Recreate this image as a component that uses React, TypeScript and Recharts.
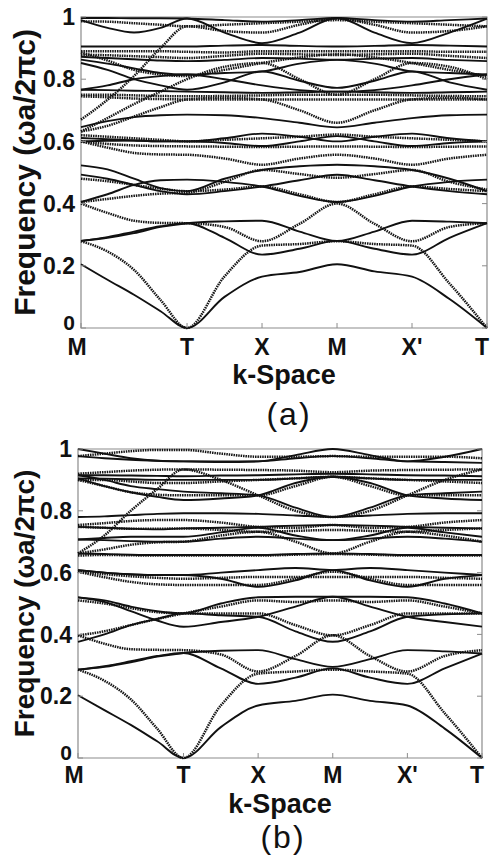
import React from 'react';
import { LineChart, Line, XAxis, YAxis, ReferenceArea } from 'recharts';

// k-path sampling: M -> T (quarter steps), then half steps along T-X-M-X'-T
const kPoints = [0, 0.3535, 0.707, 1.0605, 1.414, 1.914, 2.414, 2.914, 3.414, 3.914, 4.414, 4.914, 5.414];
const kTickPos = [0, 1.414, 2.414, 3.414, 4.414, 5.414];
const kLabels = ['M', 'T', 'X', 'M', "X'", 'T'];
const freqTicks = [0, 0.2, 0.4, 0.6, 0.8, 1];

// panel (a) bands, values at kPoints
const bandsASolid = [
  [0.205, 0.155, 0.107, 0.054, 0, 0.10, 0.165, 0.18, 0.205, 0.182, 0.165, 0.093, 0],
  [0.28, 0.29, 0.305, 0.325, 0.337, 0.343, 0.345, 0.31, 0.28, 0.31, 0.345, 0.342, 0.337],
  [0.28, 0.292, 0.31, 0.327, 0.337, 0.29, 0.236, 0.255, 0.28, 0.255, 0.236, 0.29, 0.337],
  [0.405, 0.43, 0.46, 0.475, 0.477, 0.47, 0.455, 0.425, 0.405, 0.425, 0.455, 0.47, 0.477],
  [0.493, 0.48, 0.46, 0.44, 0.43, 0.44, 0.455, 0.475, 0.493, 0.475, 0.455, 0.44, 0.43],
  [0.523, 0.51, 0.48, 0.45, 0.44, 0.48, 0.508, 0.52, 0.525, 0.52, 0.508, 0.48, 0.44],
  [0.611, 0.607, 0.603, 0.60, 0.60, 0.61, 0.625, 0.615, 0.60, 0.615, 0.625, 0.61, 0.60],
  [0.60, 0.602, 0.603, 0.60, 0.60, 0.595, 0.585, 0.60, 0.617, 0.60, 0.585, 0.595, 0.60],
  [0.646, 0.665, 0.678, 0.684, 0.686, 0.684, 0.675, 0.66, 0.645, 0.66, 0.675, 0.684, 0.686],
  [0.863, 0.85, 0.835, 0.82, 0.815, 0.82, 0.825, 0.85, 0.862, 0.85, 0.825, 0.82, 0.815],
  [0.852, 0.83, 0.80, 0.78, 0.766, 0.79, 0.825, 0.795, 0.772, 0.795, 0.825, 0.79, 0.766],
  [0.766, 0.78, 0.80, 0.81, 0.815, 0.80, 0.78, 0.765, 0.76, 0.765, 0.78, 0.80, 0.815],
  [0.766, 0.765, 0.763, 0.762, 0.76, 0.758, 0.756, 0.758, 0.76, 0.758, 0.756, 0.758, 0.76],
  [0.905, 0.905, 0.905, 0.905, 0.905, 0.908, 0.91, 0.907, 0.905, 0.907, 0.91, 0.908, 0.905],
  [0.872, 0.868, 0.864, 0.86, 0.858, 0.862, 0.868, 0.866, 0.863, 0.866, 0.868, 0.862, 0.858],
  [0.997, 0.997, 0.996, 0.996, 0.995, 0.99, 0.985, 0.99, 0.997, 0.99, 0.985, 0.99, 0.995],
  [0.99, 0.965, 0.95, 0.965, 0.995, 0.95, 0.916, 0.95, 0.997, 0.95, 0.916, 0.95, 0.995],
];
const bandsADotted = [
  [0.279, 0.246, 0.187, 0.09, 0, 0.166, 0.265, 0.27, 0.279, 0.27, 0.265, 0.143, 0],
  [0.40, 0.37, 0.345, 0.338, 0.337, 0.325, 0.279, 0.335, 0.40, 0.335, 0.279, 0.325, 0.337],
  [0.405, 0.415, 0.425, 0.432, 0.435, 0.47, 0.508, 0.495, 0.483, 0.495, 0.508, 0.47, 0.445],
  [0.48, 0.472, 0.46, 0.448, 0.44, 0.445, 0.455, 0.43, 0.405, 0.43, 0.455, 0.447, 0.44],
  [0.60, 0.58, 0.563, 0.558, 0.557, 0.545, 0.525, 0.545, 0.557, 0.545, 0.525, 0.545, 0.557],
  [0.60, 0.592, 0.587, 0.585, 0.584, 0.583, 0.582, 0.583, 0.584, 0.583, 0.582, 0.583, 0.584],
  [0.62, 0.615, 0.61, 0.605, 0.60, 0.605, 0.61, 0.615, 0.622, 0.615, 0.61, 0.605, 0.60],
  [0.632, 0.65, 0.68, 0.71, 0.735, 0.74, 0.735, 0.70, 0.66, 0.70, 0.735, 0.74, 0.735],
  [0.67, 0.734, 0.81, 0.90, 0.97, 0.955, 0.95, 0.975, 0.995, 0.975, 0.95, 0.955, 0.97],
  [0.632, 0.675, 0.72, 0.76, 0.80, 0.84, 0.852, 0.80, 0.75, 0.80, 0.852, 0.84, 0.80],
  [0.75, 0.75, 0.748, 0.746, 0.745, 0.746, 0.748, 0.75, 0.75, 0.75, 0.748, 0.746, 0.745],
  [0.745, 0.742, 0.738, 0.736, 0.735, 0.735, 0.735, 0.735, 0.735, 0.735, 0.735, 0.735, 0.735],
  [0.89, 0.89, 0.89, 0.89, 0.888, 0.886, 0.89, 0.89, 0.89, 0.89, 0.89, 0.888, 0.888],
  [0.879, 0.877, 0.874, 0.871, 0.868, 0.875, 0.882, 0.88, 0.878, 0.88, 0.882, 0.875, 0.868],
  [0.886, 0.86, 0.83, 0.815, 0.81, 0.83, 0.852, 0.87, 0.88, 0.87, 0.852, 0.83, 0.81],
  [0.986, 0.985, 0.98, 0.975, 0.97, 0.975, 0.98, 0.985, 0.99, 0.985, 0.98, 0.975, 0.97],
];

// panel (b) bands
const bandsBSolid = [
  [0.203, 0.155, 0.107, 0.054, 0, 0.10, 0.17, 0.185, 0.205, 0.185, 0.17, 0.095, 0],
  [0.286, 0.295, 0.31, 0.328, 0.34, 0.347, 0.349, 0.32, 0.295, 0.32, 0.349, 0.345, 0.338],
  [0.286, 0.297, 0.313, 0.33, 0.34, 0.29, 0.24, 0.26, 0.29, 0.26, 0.24, 0.29, 0.338],
  [0.376, 0.40, 0.43, 0.45, 0.468, 0.462, 0.457, 0.41, 0.376, 0.41, 0.457, 0.465, 0.468],
  [0.52, 0.505, 0.475, 0.445, 0.425, 0.44, 0.457, 0.49, 0.522, 0.49, 0.457, 0.44, 0.425],
  [0.52, 0.51, 0.49, 0.475, 0.468, 0.50, 0.52, 0.522, 0.522, 0.522, 0.52, 0.50, 0.468],
  [0.608, 0.60, 0.595, 0.592, 0.592, 0.60, 0.608, 0.615, 0.608, 0.615, 0.608, 0.60, 0.592],
  [0.608, 0.60, 0.594, 0.592, 0.592, 0.58, 0.554, 0.575, 0.608, 0.575, 0.554, 0.58, 0.592],
  [0.662, 0.66, 0.658, 0.657, 0.657, 0.657, 0.657, 0.66, 0.662, 0.66, 0.657, 0.657, 0.657],
  [0.707, 0.705, 0.702, 0.70, 0.70, 0.71, 0.716, 0.71, 0.705, 0.71, 0.716, 0.71, 0.70],
  [0.707, 0.712, 0.716, 0.716, 0.716, 0.73, 0.745, 0.72, 0.705, 0.72, 0.745, 0.73, 0.716],
  [0.748, 0.745, 0.742, 0.74, 0.743, 0.745, 0.748, 0.752, 0.754, 0.752, 0.748, 0.745, 0.743],
  [0.78, 0.782, 0.786, 0.79, 0.792, 0.792, 0.79, 0.785, 0.78, 0.785, 0.79, 0.792, 0.792],
  [0.905, 0.88, 0.86, 0.845, 0.835, 0.84, 0.85, 0.89, 0.91, 0.89, 0.85, 0.84, 0.835],
  [0.915, 0.90, 0.88, 0.87, 0.862, 0.857, 0.85, 0.81, 0.78, 0.81, 0.85, 0.857, 0.862],
  [0.905, 0.904, 0.902, 0.90, 0.90, 0.90, 0.90, 0.905, 0.91, 0.905, 0.90, 0.90, 0.90],
  [0.915, 0.915, 0.914, 0.913, 0.912, 0.914, 0.915, 0.918, 0.92, 0.918, 0.915, 0.914, 0.912],
  [0.977, 0.97, 0.965, 0.962, 0.96, 0.96, 0.96, 0.97, 0.977, 0.97, 0.96, 0.958, 0.955],
  [1.0, 0.985, 0.97, 0.962, 0.96, 0.958, 0.96, 0.98, 1.0, 0.98, 0.96, 0.975, 1.0],
];
const bandsBDotted = [
  [0.286, 0.25, 0.19, 0.095, 0, 0.17, 0.273, 0.28, 0.286, 0.28, 0.273, 0.145, 0],
  [0.397, 0.37, 0.352, 0.35, 0.349, 0.335, 0.28, 0.33, 0.397, 0.33, 0.28, 0.33, 0.349],
  [0.397, 0.41, 0.43, 0.45, 0.468, 0.49, 0.51, 0.505, 0.51, 0.505, 0.51, 0.49, 0.468],
  [0.51, 0.50, 0.485, 0.472, 0.468, 0.468, 0.468, 0.43, 0.397, 0.43, 0.468, 0.468, 0.468],
  [0.603, 0.585, 0.57, 0.562, 0.56, 0.56, 0.56, 0.58, 0.603, 0.58, 0.56, 0.56, 0.56],
  [0.603, 0.595, 0.588, 0.583, 0.58, 0.583, 0.586, 0.586, 0.586, 0.586, 0.586, 0.583, 0.58],
  [0.655, 0.657, 0.656, 0.655, 0.655, 0.655, 0.655, 0.658, 0.66, 0.658, 0.655, 0.655, 0.655],
  [0.662, 0.675, 0.69, 0.698, 0.70, 0.72, 0.732, 0.70, 0.662, 0.70, 0.732, 0.72, 0.70],
  [0.662, 0.72, 0.80, 0.87, 0.934, 0.90, 0.85, 0.80, 0.78, 0.80, 0.85, 0.90, 0.934],
  [0.754, 0.76, 0.767, 0.77, 0.77, 0.762, 0.748, 0.745, 0.754, 0.745, 0.748, 0.762, 0.77],
  [0.748, 0.745, 0.742, 0.742, 0.743, 0.738, 0.732, 0.735, 0.738, 0.735, 0.732, 0.738, 0.743],
  [0.90, 0.90, 0.895, 0.89, 0.89, 0.895, 0.90, 0.905, 0.91, 0.905, 0.90, 0.895, 0.89],
  [0.92, 0.925, 0.93, 0.933, 0.934, 0.933, 0.932, 0.93, 0.925, 0.93, 0.932, 0.933, 0.934],
  [0.90, 0.88, 0.86, 0.852, 0.85, 0.85, 0.85, 0.88, 0.91, 0.88, 0.85, 0.85, 0.85],
  [0.977, 0.985, 0.993, 0.997, 0.997, 0.985, 0.975, 0.975, 0.977, 0.975, 0.975, 0.975, 0.97],
];

const FONT = '"Liberation Sans", Arial, sans-serif';
const INK = '#111';
const FRAME = '#8c8c8c';

function buildRows(solid: number[][], dotted: number[][]) {
  return kPoints.map((k, i) => {
    const row: Record<string, number> = { k };
    solid.forEach((b, j) => { row['s' + j] = b[i]; });
    dotted.forEach((b, j) => { row['d' + j] = b[i]; });
    return row;
  });
}

interface PanelProps {
  solid: number[][];
  dotted: number[][];
  top: number;
  height: number;
  plotLeft: number;
  plotRight: number;
  plotHeight: number;
  tickDy: number;
  caption: string;
  captionX: number;
  captionY: number;
  titleX: number;
  titleY: number;
  yTitleSize: number;
}

function Panel(p: PanelProps) {
  const rows = buildRows(p.solid, p.dotted);
  const mTop = 17;
  const xAxisH = p.height - mTop - p.plotHeight;
  const plotMidY = mTop + p.plotHeight / 2;

  const XTick = (t: any) => {
    const idx = kTickPos.findIndex((v) => Math.abs(v - t.payload.value) < 1e-6);
    const shift = idx === 0 ? -4 : idx === kLabels.length - 1 ? -5 : 0;
    return (
      <g>
        <line x1={t.x} x2={t.x} y1={t.y} y2={t.y - 5} stroke={FRAME} />
        <text x={t.x + shift} y={t.y + p.tickDy} textAnchor="middle" fontSize={23} fontWeight="bold" fill={INK} fontFamily={FONT}>
          {kLabels[idx]}
        </text>
      </g>
    );
  };

  // the "0" label is lifted so it clears the "M" right below it
  const YTick = (t: any) => (
    <g>
      <line x1={t.x} x2={t.x + 5} y1={t.y} y2={t.y} stroke={FRAME} />
      <line x1={p.plotRight - 5} x2={p.plotRight} y1={t.y} y2={t.y} stroke={FRAME} />
      <text x={t.x - 6} y={t.payload.value === 0 ? t.y - 6 : t.y} dy="0.36em" textAnchor="end" fontSize={t.payload.value === 0 ? 21 : 23} fontWeight="bold" fill={INK} fontFamily={FONT}>
        {String(t.payload.value)}
      </text>
    </g>
  );

  const XTitle = () => (
    <g>
      <text x={p.titleX} y={p.titleY} textAnchor="middle" fontSize={27} fontWeight="bold" fill={INK} fontFamily={FONT}>
        k-Space
      </text>
      <text x={p.captionX} y={p.captionY} textAnchor="middle" fontSize={32} fill={INK} fontFamily={FONT} letterSpacing={2}>
        {p.caption}
      </text>
    </g>
  );

  const YTitle = () => (
    <text
      x={24}
      y={plotMidY}
      transform={`rotate(-90 24 ${plotMidY})`}
      textAnchor="middle"
      dominantBaseline="central"
      fontSize={p.yTitleSize}
      fontWeight="bold"
      fill={INK}
      fontFamily={FONT}
    >
      Frequency (ωa/2πc)
    </text>
  );

  return (
    <div style={{ position: 'absolute', left: 0, top: p.top }}>
      <LineChart
        width={492}
        height={p.height}
        data={rows}
        margin={{ top: mTop, right: 492 - p.plotRight, bottom: 0, left: 0 }}
      >
        <XAxis
          dataKey="k"
          type="number"
          domain={[0, 5.414]}
          ticks={kTickPos}
          height={xAxisH}
          axisLine={false}
          tickLine={false}
          tickSize={0}
          tickMargin={0}
          tick={<XTick />}
          interval={0}
          label={<XTitle />}
        />
        <YAxis
          type="number"
          domain={[0, 1]}
          ticks={freqTicks}
          width={p.plotLeft}
          axisLine={false}
          tickLine={false}
          tickSize={0}
          tickMargin={0}
          tick={<YTick />}
          interval={0}
          label={<YTitle />}
        />
        <ReferenceArea x1={0} x2={5.414} y1={0} y2={1} fill="none" stroke={FRAME} strokeWidth={1.2} />
        {p.dotted.map((_, j) => (
          <Line
            key={'d' + j}
            type="monotone"
            dataKey={'d' + j}
            stroke="#151515"
            strokeWidth={2.5}
            strokeDasharray="1.5 0.9"
            dot={false}
            isAnimationActive={false}
          />
        ))}
        {p.solid.map((_, j) => (
          <Line
            key={'s' + j}
            type="monotone"
            dataKey={'s' + j}
            stroke={INK}
            strokeWidth={1.9}
            dot={false}
            isAnimationActive={false}
          />
        ))}
      </LineChart>
    </div>
  );
}

export default function App() {
  return (
    <div style={{ position: 'absolute', left: 0, top: 0, width: 492, height: 859, background: '#fff', overflow: 'hidden' }}>
      <Panel
        solid={bandsASolid}
        dotted={bandsADotted}
        top={0}
        height={432}
        plotLeft={81}
        plotRight={487}
        plotHeight={311}
        tickDy={27}
        caption="(a)"
        captionX={289}
        captionY={425}
        titleX={284}
        titleY={384}
        yTitleSize={30}
      />
      <Panel
        solid={bandsBSolid}
        dotted={bandsBDotted}
        top={432}
        height={427}
        plotLeft={78}
        plotRight={482}
        plotHeight={309}
        tickDy={25}
        caption="(b)"
        captionX={283}
        captionY={416}
        titleX={280}
        titleY={381}
        yTitleSize={28}
      />
    </div>
  );
}
